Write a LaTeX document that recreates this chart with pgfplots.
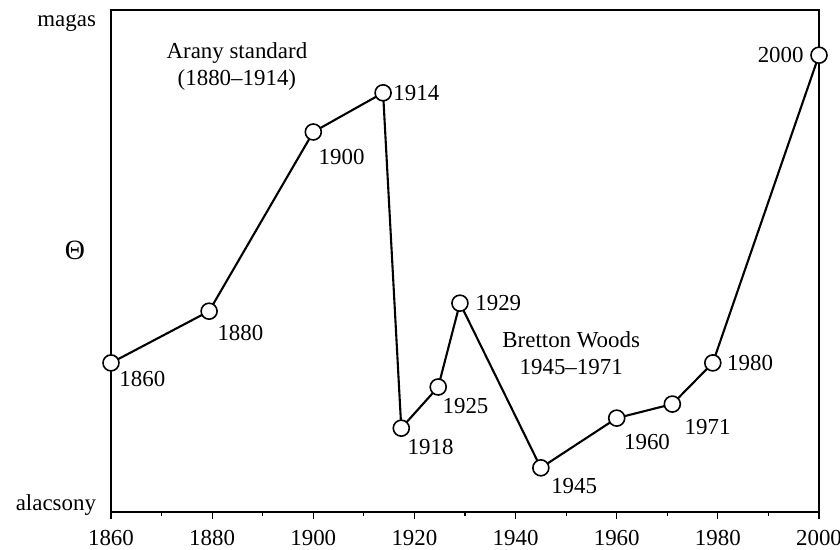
\documentclass[border=0pt]{standalone}
\usepackage{fontspec}
\setmainfont{Liberation Serif}
\usepackage{pgfplots}
\pgfplotsset{compat=1.18}
\begin{document}
\fontsize{11.5}{13.5}\selectfont
\begin{tikzpicture}
\begin{axis}[
  scale only axis,
  width=354bp, height=251bp,
  xmin=1860, xmax=2000, ymin=0, ymax=100,
  axis line style={line width=0.75bp},
  xtick={1860,1880,...,2000},
  minor x tick num=1,
  tick align=outside,
  xtick pos=bottom,
  major tick length=3.5bp,
  minor tick length=2bp,
  tick style={black, line width=0.6bp},
  x tick label style={/pgf/number format/1000 sep={}, /pgf/number format/assume math mode=true, yshift=-1.5bp},
  ytick={1.4,97.4},
  yticklabels={alacsony,magas},
  ytick style={draw=none},
  ytick pos=left,
  clip=false,
  every tick label/.append style={font=\fontsize{11.5}{13.5}\selectfont},
]
\addplot[black, line width=1.05bp, mark=*, mark size=4bp,
  mark options={fill=white, draw=black, line width=0.8bp}] coordinates {
  (1860,29.7) (1879.4,40.0) (1900,75.7) (1913.8,83.5) (1917.4,16.7)
  (1924.7,24.9) (1929,41.6) (1945,8.8) (1960,18.7) (1971,21.5)
  (1979,29.7) (2000,91.0)
};
\node[anchor=north west, inner sep=0pt, xshift=4bp, yshift=-4bp] at (axis cs:1860,29.7) {1860};
\node[anchor=north west, inner sep=0pt, xshift=4bp, yshift=-7bp] at (axis cs:1879.4,40.0) {1880};
\node[anchor=north west, inner sep=0pt, xshift=2.5bp, yshift=-8.5bp] at (axis cs:1900,75.7) {1900};
\node[anchor=west, inner sep=0pt, xshift=5bp] at (axis cs:1913.8,83.5) {1914};
\node[anchor=north west, inner sep=0pt, xshift=3bp, yshift=-5.5bp] at (axis cs:1917.4,16.7) {1918};
\node[anchor=north west, inner sep=0pt, xshift=2bp, yshift=-5.5bp] at (axis cs:1924.7,24.9) {1925};
\node[anchor=west, inner sep=0pt, xshift=7.5bp] at (axis cs:1929,41.6) {1929};
\node[anchor=north west, inner sep=0pt, xshift=5bp, yshift=-5bp] at (axis cs:1945,8.8) {1945};
\node[anchor=north west, inner sep=0pt, xshift=3.5bp, yshift=-8bp] at (axis cs:1960,18.7) {1960};
\node[anchor=north west, inner sep=0pt, xshift=6bp, yshift=-7.5bp] at (axis cs:1971,21.5) {1971};
\node[anchor=west, inner sep=0pt, xshift=7bp] at (axis cs:1979,29.7) {1980};
\node[anchor=east, inner sep=0pt, xshift=-7.5bp] at (axis cs:2000,91.0) {2000};
\node[align=center, inner sep=0pt] at (axis cs:1884.9,88.8) {Arany standard\\(1880--1914)};
\node[align=center, inner sep=0pt] at (axis cs:1951,31.7) {Bretton Woods\\1945--1971};
\node[font=\fontsize{14}{16}\selectfont] at (rel axis cs:0,0.522) [xshift=-18bp] {Θ};
\coordinate (bl) at (rel axis cs:0,0);
\coordinate (tr) at (rel axis cs:1,1);
\end{axis}
\pgfresetboundingbox
\path ([shift={(-55.5bp,-19bp)}]bl) rectangle ([shift={(10.5bp,5bp)}]tr);
\end{tikzpicture}
\end{document}
